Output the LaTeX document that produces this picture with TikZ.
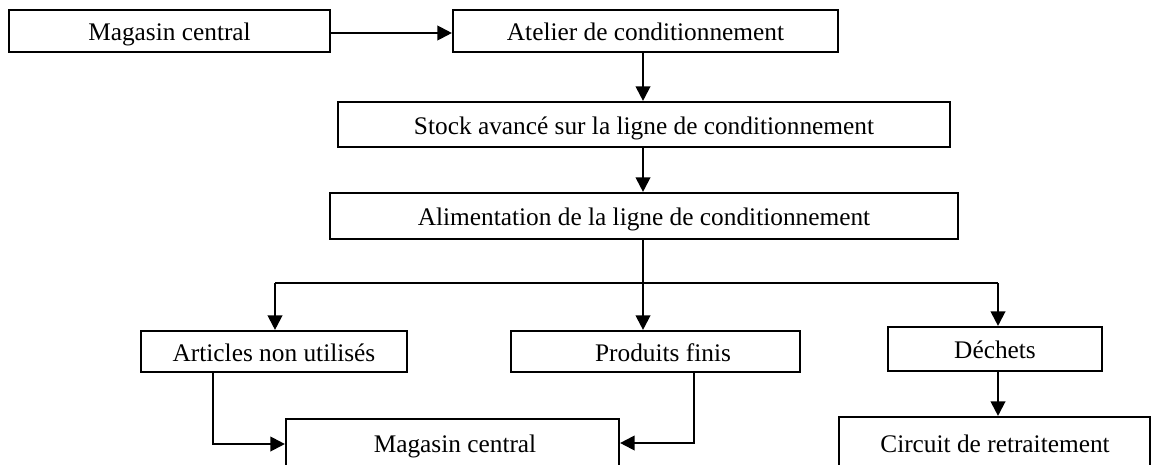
\documentclass[tikz,border=0pt]{standalone}
\usepackage{fontspec}
\setmainfont{Liberation Serif}
\usetikzlibrary{arrows.meta,calc}

\begin{document}
\begin{tikzpicture}[x=0.75pt,y=-0.75pt,
  lbl/.style={font=\fontsize{19pt}{21pt}\selectfont, inner sep=0pt,
    text height=15.2pt, text depth=0.9pt},
  box/.style={draw=black, line width=1.6pt, inner sep=0pt, anchor=center, lbl},
  flow/.style={line width=1.6pt, -{Triangle[length=11pt,width=11pt]}},
  plain/.style={line width=1.6pt}]

\useasboundingbox (0,0) rectangle (1151,464);

% boxes: centre, width and height in pixel units (0.75pt)
\node[box, minimum width=321*0.75pt, minimum height=42*0.75pt] (A) at (169.5,31) {Magasin central};
\node[box, minimum width=385*0.75pt, minimum height=42*0.75pt] (B) at (645.5,31) {Atelier de conditionnement};
\node[box, minimum width=612*0.75pt, minimum height=45*0.75pt] (C) at (644,124.5) {Stock avancé sur la ligne de conditionnement};
\node[box, minimum width=628*0.75pt, minimum height=46*0.75pt] (D) at (644,216) {Alimentation de la ligne de conditionnement};
\node[box, minimum width=266*0.75pt, minimum height=41*0.75pt] (E) at (274,351.5) {Articles non utilisés};
\node[box, minimum width=289*0.75pt, minimum height=41*0.75pt] (F) at (655.5,351.5) {};
\node[lbl] (Ft) at (663,351.5) {Produits finis};
\node[box, minimum width=214*0.75pt, minimum height=44*0.75pt] (G) at (995,349) {Déchets};
\node[box, minimum width=333*0.75pt, minimum height=50*0.75pt] (I) at (452.5,444) {};
\node[lbl] (It) at (455,442.5) {Magasin central};
\node[box, minimum width=311*0.75pt, minimum height=51*0.75pt] (H) at (994.5,442.5) {};
\node[lbl] (Ht) at (995,442.5) {Circuit de retraitement};

% branching points
\coordinate (split) at (643,283);
\coordinate (bl) at (275,283);
\coordinate (br) at (998,283);
\coordinate (ea) at (213,444);
\coordinate (fa) at (694,443);

% connectors
\draw[flow] ([yshift=-1.5pt]A.east) -- ([yshift=-1.5pt]B.west);
\draw[flow] (B.south -| split) -- (C.north -| split);
\draw[flow] (C.south -| split) -- (D.north -| split);
\draw[plain] (D.south -| split) -- (split);
\draw[plain] (bl) -- (br);
\draw[flow] (bl) -- (E.north -| bl);
\draw[flow] (split) -- (F.north -| split);
\draw[flow] (br) -- (G.north -| br);
\draw[flow] (G.south -| br) -- (H.north -| br);
\draw[flow] (E.south -| ea) -- (ea) -- (I.west |- ea);
\draw[flow] (F.south -| fa) -- (fa) -- (I.east |- fa);
\end{tikzpicture}
\end{document}
